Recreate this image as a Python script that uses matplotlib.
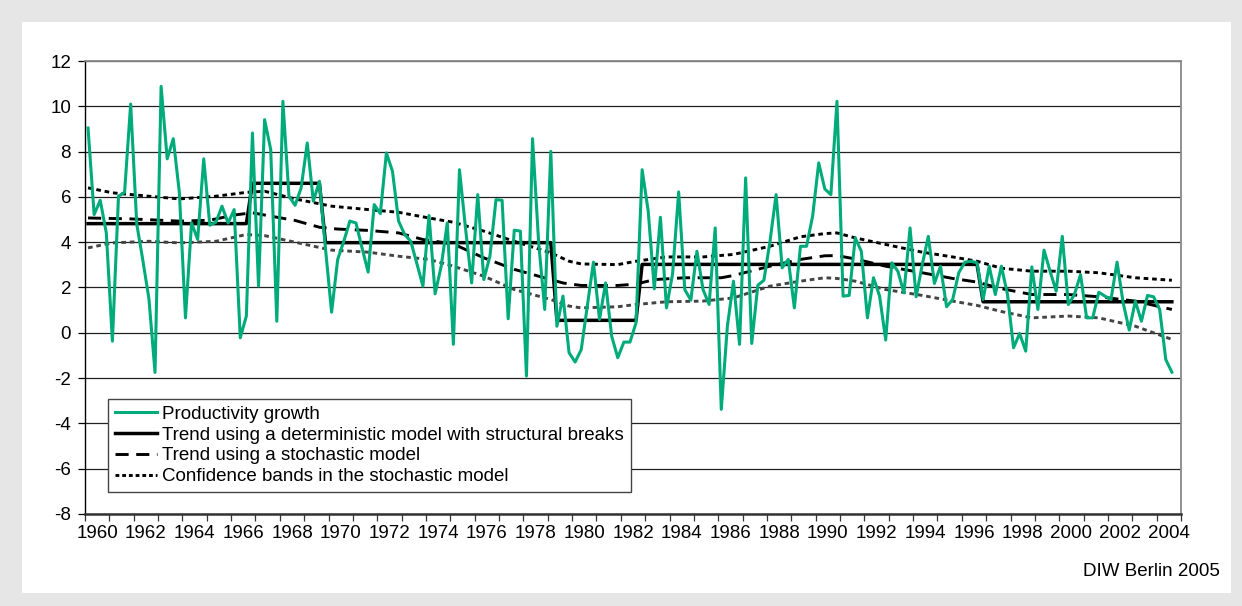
import numpy as np
import matplotlib.pyplot as plt
from matplotlib.patches import Rectangle
from matplotlib.lines import Line2D

plt.rcParams['font.family'] = ['Liberation Sans', 'DejaVu Sans']

# Quarterly productivity growth, 1960Q1 onwards
growth = [
    9.04, 5.22, 5.85, 4.41, -0.37, 6.03, 6.20, 10.10, 4.80, 3.20,
    1.50, -1.75, 10.88, 7.68, 8.57, 6.18, 0.66, 4.85, 4.12, 7.68,
    4.75, 4.88, 5.59, 4.85, 5.44, -0.22, 0.74, 8.82, 2.06, 9.41,
    8.09, 0.51, 10.22, 6.03, 5.63, 6.40, 8.38, 5.81, 6.69, 3.70,
    0.91, 3.24, 4.04, 4.93, 4.85, 3.75, 2.68, 5.66, 5.26, 7.94,
    7.13, 4.93, 4.34, 4.04, 3.06, 2.06, 5.18, 1.72, 2.94, 4.85,
    -0.51, 7.20, 4.60, 2.20, 6.10, 2.35, 3.38, 5.88, 5.85, 0.62,
    4.53, 4.49, -1.91, 8.57, 4.00, 1.03, 8.01, 0.29, 1.62, -0.88,
    -1.29, -0.74, 1.20, 3.12, 0.59, 2.20, -0.15, -1.10, -0.41, -0.41,
    0.44, 7.20, 5.37, 1.94, 5.10, 1.10, 2.60, 6.22, 1.91, 1.44,
    3.60, 1.91, 1.25, 4.63, -3.38, 0.29, 2.28, -0.51, 6.84, -0.47,
    2.10, 2.32, 4.04, 6.10, 2.87, 3.24, 1.10, 3.82, 3.82, 5.15,
    7.50, 6.35, 6.10, 10.22, 1.62, 1.65, 4.19, 3.60, 0.66, 2.43,
    1.62, -0.32, 3.09, 2.72, 1.76, 4.63, 1.59, 3.00, 4.26, 2.18,
    2.94, 1.15, 1.47, 2.65, 3.12, 3.16, 3.09, 1.47, 2.94, 1.69,
    2.94, 1.70, -0.66, -0.03, -0.81, 2.91, 1.03, 3.65, 2.72, 1.84,
    4.26, 1.25, 1.69, 2.57, 0.66, 0.66, 1.79, 1.62, 1.47, 3.12,
    1.32, 0.12, 1.40, 0.51, 1.65, 1.59, 1.03, -1.18, -1.74,
]

# Deterministic trend with structural breaks: first and last quarter of each regime
det_start = [0, 27, 39, 77, 91, 147]
det_end = [26, 38, 76, 90, 146, 178]
det_level = [4.82, 6.60, 3.98, 0.55, 3.02, 1.37]

# Stochastic trend and confidence bands, read at selected quarters
stoch_q = [0, 7, 15, 20, 24, 27, 30, 34, 38, 41, 46, 51, 55, 60, 65, 70, 76, 78, 81,
           87, 90, 93, 98, 104, 106, 112, 117, 121, 123, 126, 131, 137, 142, 146, 150,
           155, 161, 166, 172, 178]
stoch_val = [5.07, 5.03, 4.93, 4.97, 5.20, 5.30, 5.15, 4.96, 4.66, 4.58, 4.52, 4.41,
             4.12, 3.92, 3.31, 2.80, 2.35, 2.20, 2.09, 2.09, 2.15, 2.35, 2.43, 2.43,
             2.53, 2.94, 3.24, 3.40, 3.41, 3.26, 2.94, 2.65, 2.40, 2.24, 1.95, 1.69,
             1.69, 1.59, 1.40, 1.03]

band_q = [0, 4, 10, 15, 21, 26, 29, 34, 40, 46, 51, 56, 60, 65, 70, 76, 79, 81, 87,
          90, 95, 101, 106, 112, 117, 121, 123, 126, 131, 137, 142, 146, 150, 155,
          161, 166, 172, 178]
upper_val = [6.40, 6.18, 6.03, 5.91, 6.03, 6.20, 6.25, 5.91, 5.59, 5.44, 5.32, 5.07,
             4.88, 4.49, 4.04, 3.53, 3.16, 3.04, 3.01, 3.16, 3.35, 3.35, 3.46, 3.82,
             4.24, 4.38, 4.41, 4.19, 3.90, 3.56, 3.35, 3.16, 2.85, 2.72, 2.72, 2.65,
             2.43, 2.32]
lower_val = [3.75, 3.97, 4.04, 3.97, 4.04, 4.34, 4.29, 4.00, 3.65, 3.56, 3.38, 3.24,
             2.94, 2.50, 1.91, 1.47, 1.18, 1.10, 1.15, 1.25, 1.37, 1.40, 1.54, 2.06,
             2.28, 2.43, 2.40, 2.28, 1.91, 1.65, 1.40, 1.21, 0.94, 0.66, 0.74, 0.66,
             0.29, -0.29]

year_ticks = list(range(1960, 2006))
year_labels = list(range(1960, 2005, 2))
y_ticks = list(range(-8, 13, 2))

green = '#00ab7b'
fs = 13.5


def qtime(q):
    return 1960 + (np.asarray(q, dtype=float) + 0.5) / 4


fig = plt.figure(figsize=(12.42, 6.06), dpi=100, facecolor='#e6e6e6')
fig.patches.append(Rectangle((22 / 1242, 13 / 606), 1209 / 1242, 571 / 606,
                             transform=fig.transFigure, facecolor='white',
                             edgecolor='none', zorder=-10))
ax = fig.add_axes([85 / 1242, 92 / 606, 1096 / 1242, 453 / 606])
ax.set_zorder(1)
ax.set_facecolor('white')

# deterministic trend: regimes joined quarter to quarter
det_q, det_v = [], []
for s, e, lv in zip(det_start, det_end, det_level):
    det_q += [s, e]
    det_v += [lv, lv]
ax.plot(qtime(det_q), det_v, color='black', lw=2.5, zorder=3)
ax.plot(qtime(stoch_q), stoch_val, color='black', lw=2.1, dashes=(4.5, 2.6), zorder=3)
ax.plot(qtime(band_q), upper_val, color='black', lw=2.1, dashes=(1.6, 1.3), zorder=3)
ax.plot(qtime(band_q), lower_val, color='#444444', lw=2.1, dashes=(1.6, 1.3), zorder=3)
ax.plot(qtime(range(len(growth))), growth, color=green, lw=2.2, zorder=4)

ax.set_xlim(1960, 2005)
ax.set_ylim(-8, 12)
ax.set_yticks(y_ticks)
ax.set_yticklabels([str(v) for v in y_ticks])
ax.yaxis.grid(True, color='#222222', lw=0.9)
ax.set_axisbelow(True)

ax.set_xticks(year_ticks)
ax.set_xticklabels([])
ax.set_xticks([y + 0.5 for y in year_labels], minor=True)
ax.set_xticklabels([str(y) for y in year_labels], minor=True)
ax.tick_params(axis='x', which='major', length=5, width=0.9, color='#333333')
ax.tick_params(axis='x', which='minor', length=0, pad=8, labelsize=fs)
ax.tick_params(axis='y', length=5, width=0.9, pad=5, labelsize=fs)

for side in ['top', 'right']:
    ax.spines[side].set_color('#888888')
    ax.spines[side].set_linewidth(1.3)
ax.spines['left'].set_color('black')
ax.spines['left'].set_linewidth(1.0)
ax.spines['bottom'].set_color('#333333')
ax.spines['bottom'].set_linewidth(1.8)

handles = [
    Line2D([], [], color=green, lw=2.2),
    Line2D([], [], color='black', lw=2.5),
    Line2D([], [], color='black', lw=2.1, dashes=(4.5, 2.6)),
    Line2D([], [], color='black', lw=2.1, dashes=(1.3, 1.0)),
]
labels = ['Productivity growth',
          'Trend using a deterministic model with structural breaks',
          'Trend using a stochastic model',
          'Confidence bands in the stochastic model']
leg = ax.legend(handles, labels, loc='upper left', bbox_to_anchor=(0.021, 0.254),
                fontsize=fs, frameon=True, fancybox=False, handlelength=2.25,
                handletextpad=0.3, labelspacing=0.2, borderpad=0.35,
                borderaxespad=0)
leg.get_frame().set_edgecolor('#444444')
leg.get_frame().set_linewidth(1.0)
leg.get_frame().set_alpha(1)

fig.text(1220 / 1242, 1 - 572 / 606, 'DIW Berlin 2005', ha='right', va='center',
         fontsize=fs)

fig.savefig('out.png', dpi=100, facecolor=fig.get_facecolor())
